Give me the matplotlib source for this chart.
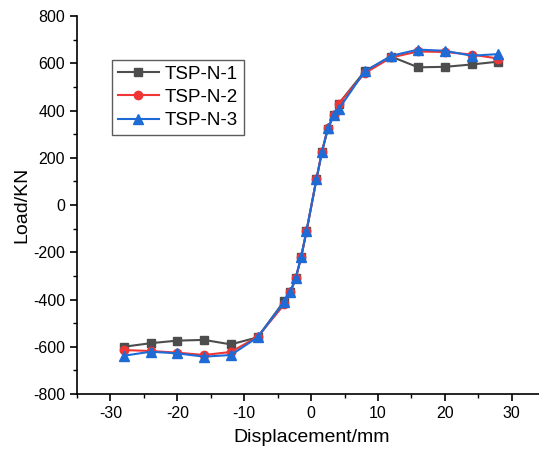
import matplotlib
matplotlib.use("Agg")
import matplotlib.pyplot as plt
from matplotlib.ticker import MultipleLocator

plt.rcParams['font.family'] = ['Liberation Sans', 'DejaVu Sans']
plt.rcParams['axes.unicode_minus'] = False

disp = [-28, -24, -20, -16, -12, -8, -4, -3.1, -2.3, -1.5, -0.7, 0.8, 1.6, 2.5, 3.4, 4.1, 8, 12, 16, 20, 24, 28]
load_n1 = [-600, -585, -574, -571, -590, -560, -405, -367, -310, -221, -112, 110, 223, 323, 382, 428, 566, 628, 583, 585, 595, 607]
load_n2 = [-614, -618, -625, -635, -622, -558, -420, -370, -310, -221, -112, 110, 225, 325, 381, 428, 558, 625, 650, 648, 637, 620]
load_n3 = [-638, -621, -628, -642, -635, -560, -410, -367, -308, -221, -110, 110, 223, 325, 381, 405, 566, 632, 658, 653, 632, 639]
labels = ['TSP-N-1', 'TSP-N-2', 'TSP-N-3']

fig = plt.figure(figsize=(5.39, 4.51), dpi=100)
ax = fig.add_axes([0.1429, 0.1264, 0.8687, 0.838])
ax.plot(disp, load_n1, color='#4d4d4d', marker='s', markersize=5.5, lw=1.5, label=labels[0])
ax.plot(disp, load_n2, color='#f03535', marker='o', markersize=6, lw=1.5, label=labels[1])
ax.plot(disp, load_n3, color='#1f6bd6', marker='^', markersize=7, lw=1.5, label=labels[2])

ax.set_xlim(-35, 35)
ax.set_ylim(-800, 800)
ax.xaxis.set_major_locator(MultipleLocator(10))
ax.xaxis.set_minor_locator(MultipleLocator(5))
ax.yaxis.set_major_locator(MultipleLocator(200))
ax.yaxis.set_minor_locator(MultipleLocator(100))
ax.spines['top'].set_visible(False)
ax.spines['right'].set_visible(False)
for s in ['left', 'bottom']:
    ax.spines[s].set_linewidth(1.2)
ax.tick_params(which='major', direction='out', length=5, width=1.2, labelsize=11.5)
ax.tick_params(which='minor', direction='out', length=3, width=1.0)
ax.set_xlabel('Displacement/mm', fontsize=14, labelpad=6)
ax.set_ylabel('Load/KN', fontsize=14, labelpad=2)

leg = ax.legend(loc='upper left', bbox_to_anchor=(0.075, 0.884), borderaxespad=0, fontsize=13.5,
                frameon=True, fancybox=False, edgecolor='#333333', handlelength=2.2, borderpad=0.3,
                labelspacing=0.33, handletextpad=0.3)
leg.get_frame().set_linewidth(1.0)

fig.savefig('out.png', dpi=100)
